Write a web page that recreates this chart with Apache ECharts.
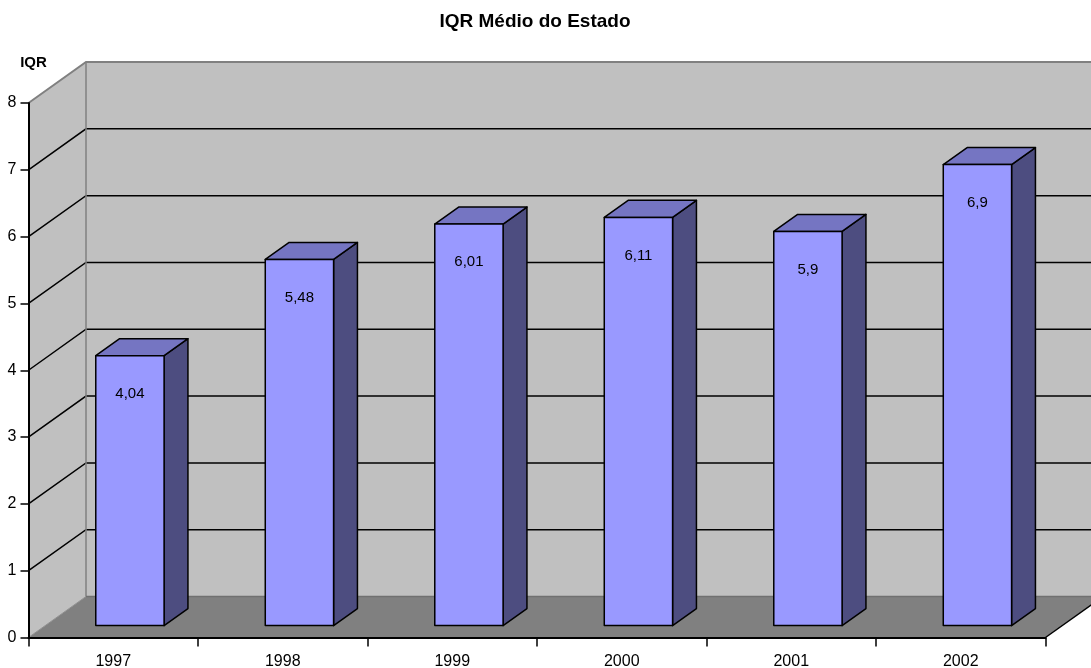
<!DOCTYPE html>
<html>
<head>
<meta charset="utf-8">
<script src="https://cdn.jsdelivr.net/npm/echarts@6/dist/echarts.min.js"></script>
<style>
html,body{margin:0;padding:0;background:#fff;}
#chart{width:1091px;height:668px;}
</style>
</head>
<body>
<div id="chart"></div>
<script>
// ---- data ----
const titleText = 'IQR Médio do Estado';
const yAxisName = 'IQR';
const years = ['1997', '1998', '1999', '2000', '2001', '2002'];
const values = [4.04, 5.48, 6.01, 6.11, 5.9, 6.9];
const yTickValues = [0, 1, 2, 3, 4, 5, 6, 7, 8];

// ---- style constants ----
const FONT = '"Liberation Sans", Arial, sans-serif';
const DX = 57.5, DY = -41;          // depth projection of the 3D box
const BAR_FRONT = 0.29, BAR_DEPTH = 0.415, BAR_WIDTH = 0.403;
const WALL = '#c0c0c0', FLOOR = '#808080', EDGE = '#808080';
const FRONT = '#9999ff', TOP = '#7575c2', SIDE = '#4d4d80';

const yMin = yTickValues[0], yMax = yTickValues[yTickValues.length - 1];
const fmt = v => String(v).replace('.', ',');

const chart = echarts.init(document.getElementById('chart'), null, {renderer: 'canvas'});

function renderBackground(params, api) {
  const cs = params.coordSys;
  const x0 = cs.x, x1 = cs.x + cs.width;
  const yb = api.coord([0, yMin])[1];
  const yt = api.coord([0, yMax])[1];
  const ch = [];
  ch.push({type: 'polygon', shape: {points: [[x0, yb], [x0, yt], [x0 + DX, yt + DY], [x0 + DX, yb + DY]]}, style: {fill: WALL}});
  ch.push({type: 'rect', shape: {x: x0 + DX, y: yt + DY, width: x1 - x0, height: yb - yt}, style: {fill: WALL}});
  ch.push({type: 'polygon', shape: {points: [[x0, yb], [x1, yb], [x1 + DX, yb + DY], [x0 + DX, yb + DY]]}, style: {fill: FLOOR}});
  yTickValues.forEach(v => {
    if (v === yMin || v === yMax) return;
    const y = api.coord([0, v])[1];
    ch.push({type: 'polyline', shape: {points: [[x0, y], [x0 + DX, y + DY], [x1 + DX, y + DY]]}, style: {stroke: '#000', lineWidth: 1.5, fill: null}});
  });
  ch.push({type: 'polyline', shape: {points: [[x0, yt], [x0 + DX, yt + DY], [x1 + DX, yt + DY]]}, style: {stroke: EDGE, lineWidth: 2, fill: null}});
  ch.push({type: 'line', shape: {x1: x0 + DX, y1: yt + DY, x2: x0 + DX, y2: yb + DY}, style: {stroke: EDGE, lineWidth: 1.5}});
  ch.push({type: 'line', shape: {x1: x0 + DX, y1: yb + DY, x2: x1 + DX, y2: yb + DY}, style: {stroke: '#707070', lineWidth: 1.5}});
  ch.push({type: 'line', shape: {x1: x0, y1: yb, x2: x0 + DX, y2: yb + DY}, style: {stroke: '#909090', lineWidth: 1}});
  ch.push({type: 'line', shape: {x1: x1, y1: yb, x2: x1 + DX, y2: yb + DY}, style: {stroke: '#000', lineWidth: 1.5}});
  return {type: 'group', children: ch};
}

function renderBar(params, api) {
  const i = api.value(0), v = api.value(1);
  const base = api.coord([i, yMin]);
  const top = api.coord([i, v]);
  const w = api.size([1, 0])[0] * BAR_WIDTH;
  const ox = DX * BAR_FRONT, oy = DY * BAR_FRONT;
  const dx = DX * BAR_DEPTH, dy = DY * BAR_DEPTH;
  const L = base[0] - w / 2 + ox, R = L + w, B = base[1] + oy, T = top[1] + oy;
  const st = {stroke: '#000', lineWidth: 1.5, lineJoin: 'round'};
  return {type: 'group', children: [
    {type: 'polygon', shape: {points: [[R, B], [R, T], [R + dx, T + dy], [R + dx, B + dy]]}, style: Object.assign({fill: SIDE}, st)},
    {type: 'polygon', shape: {points: [[L, T], [R, T], [R + dx, T + dy], [L + dx, T + dy]]}, style: Object.assign({fill: TOP}, st)},
    {type: 'rect', shape: {x: L, y: T, width: w, height: B - T}, style: Object.assign({fill: FRONT}, st)},
    {type: 'text', style: {text: fmt(v), x: L + w / 2, y: T + 38, align: 'center', verticalAlign: 'middle', fill: '#000', font: '15px ' + FONT}}
  ]};
}

chart.setOption({
  animation: false,
  backgroundColor: '#fff',
  title: {
    text: titleText, left: 535, top: 12, textAlign: 'center', padding: 0,
    textStyle: {fontFamily: FONT, fontSize: 19, fontWeight: 'bold', color: '#000'}
  },
  grid: {left: 28.5, right: 45.5, top: 103, bottom: 30.5, containLabel: false, outerBoundsMode: 'none'},
  xAxis: {
    type: 'category', data: years, boundaryGap: true, z: 10,
    axisLine: {show: true, lineStyle: {color: '#000', width: 2}},
    axisTick: {show: true, alignWithLabel: false, length: 9, lineStyle: {color: '#000', width: 1.5}},
    axisLabel: {margin: 16, color: '#000', fontFamily: FONT, fontSize: 16},
    splitLine: {show: false}
  },
  yAxis: {
    type: 'value', min: yMin, max: yMax, interval: 1, z: 10,
    name: yAxisName, nameLocation: 'end', nameGap: 33,
    nameTextStyle: {fontFamily: FONT, fontSize: 15, fontWeight: 'bold', color: '#000', padding: [0, 0, 0, 10]},
    axisLine: {show: true, lineStyle: {color: '#000', width: 2}},
    axisTick: {show: true, length: 8, lineStyle: {color: '#000', width: 1.5}},
    axisLabel: {margin: 12, color: '#000', fontFamily: FONT, fontSize: 16},
    splitLine: {show: false}
  },
  series: [
    {type: 'custom', z: 1, renderItem: renderBackground, data: [[0, 0]], silent: true, clip: false},
    {type: 'custom', z: 2, renderItem: renderBar, data: values.map((v, i) => [i, v]), clip: false}
  ]
});
</script>
</body>
</html>
